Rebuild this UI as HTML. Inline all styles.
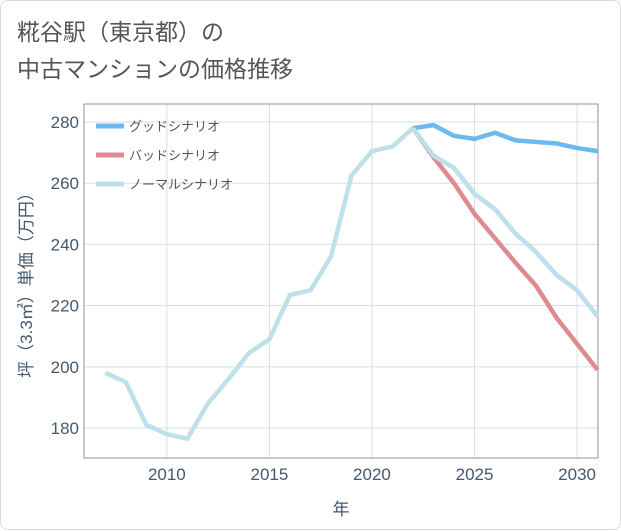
<!DOCTYPE html>
<html><head><meta charset="utf-8"><style>
body{margin:0;background:#fff;}
.wrap{position:relative;width:619px;height:528px;border:1px solid #d8dde3;border-radius:8px;background:#fff;font-family:"Liberation Sans","Noto Sans CJK JP",sans-serif;}
.title{position:absolute;left:16px;top:13px;font-size:23px;line-height:37px;color:#555;}
svg{position:absolute;left:0;top:0;}
</style></head><body>
<div class="wrap">
<div class="title">糀谷駅（東京都）の<br>中古マンションの価格推移</div>
<svg width="621" height="530" id="chart"></svg>
</div>
<script>
const years=[2007,2008,2009,2010,2011,2012,2013,2014,2015,2016,2017,2018,2019,2020,2021,2022,2023,2024,2025,2026,2027,2028,2029,2030,2031];
const normal=[198,195,181,178,176.5,188,196,204.5,209,223.5,225,236,262.5,270.5,272,278,269,265,256.5,251.5,243.5,237.5,230,225,216.5];
const goodYears=[2022,2023,2024,2025,2026,2027,2028,2029,2030,2031];
const good=[278,279,275.5,274.5,276.5,274,273.5,273,271.5,270.5];
const bad=[278,268.5,260,250,242,234,226.5,216,207.5,199];
const xTicks=[2010,2015,2020,2025,2030];
const yTicks=[180,200,220,240,260,280];
const L=83,R=597,T=103,B=457;
const x=v=>L+(v-2005.96)/(2031.02-2005.96)*(R-L);
const y=v=>B-(v-170.2)/(285.9-170.2)*(B-T);
const svg=document.getElementById('chart');
const NS='http://www.w3.org/2000/svg';
function mk(t,a){const e=document.createElementNS(NS,t);for(const k in a)e.setAttribute(k,a[k]);svg.appendChild(e);return e;}
xTicks.forEach(v=>{const l=mk('line',{x1:x(v),x2:x(v),y1:T,y2:B,stroke:'#d5dfe8','stroke-width':1});


const t=mk('text',{x:x(v),y:B+22,'text-anchor':'middle','font-size':17,fill:'#44586f'});t.textContent=v;

});
yTicks.forEach(v=>{const l=mk('line',{x1:L,x2:R,y1:y(v),y2:y(v),stroke:'#d5dfe8','stroke-width':1});


const t=mk('text',{x:L-5,y:y(v)+6,'text-anchor':'end','font-size':17,fill:'#44586f'});t.textContent=v;

});
const fr=mk('rect',{x:L,y:T,width:R-L,height:B-T,fill:'none',stroke:'#8a96a3','stroke-width':1});


function line(xs,vs,c,name){const p=mk('polyline',{points:xs.map((yr,i)=>x(yr)+','+y(vs[i])).join(' '),fill:'none',stroke:c,'stroke-width':4.5,'stroke-linejoin':'round'});

}
line(years,normal,'#bde0ea','normal-scenario-line');
line(goodYears,bad,'#de8a90','bad-scenario-line');
line(goodYears,good,'#6ab9f0','good-scenario-line');
line(years.slice(15),normal.slice(15),'#bde0ea','normal-scenario-line-future');
const leg=[['グッドシナリオ','#6ab9f0'],['バッドシナリオ','#de8a90'],['ノーマルシナリオ','#bde0ea']];
leg.forEach((d,i)=>{const yy=125+i*29;const l=mk('line',{x1:95,x2:123,y1:yy,y2:yy,stroke:d[1],'stroke-width':5});


const t=mk('text',{x:128,y:yy+5,'font-size':13,fill:'#555'});t.textContent=d[0];

});
const xt=mk('text',{x:(L+R)/2,y:514,'text-anchor':'middle','font-size':17,fill:'#44586f'});xt.textContent='年';


const yt=mk('text',{x:0,y:0,'text-anchor':'middle','font-size':17,fill:'#44586f',transform:'translate(31,'+(T+B)/2+') rotate(-90)'});yt.textContent='坪（3.3㎡）単価（万円）';


</script>
</body></html>
